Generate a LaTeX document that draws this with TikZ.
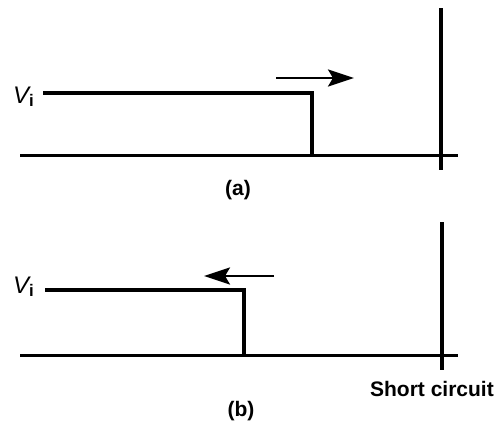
\documentclass[tikz,border=0pt]{standalone}
\usepackage{fontspec}
\setmainfont{Liberation Sans}
\usetikzlibrary{arrows.meta}
\tikzset{
  levelline/.style={line width=3.4pt},
  baseline/.style={line width=3pt},
  shortline/.style={line width=3.2pt},
  motion/.style={line width=2.6pt,-{Stealth[length=26pt,width=17pt,inset=5pt]}},
  caption/.style={font=\bfseries\fontsize{21}{24}\selectfont,inner sep=0pt},
  vlabel/.style={font=\fontsize{24}{26}\selectfont,inner sep=0pt,anchor=base west}
}
\begin{document}
\begin{tikzpicture}[x=1pt,y=-1pt]
\useasboundingbox (0,0) rectangle (496,421);
% ---------- (a) ----------
\coordinate (a1) at (43,93);
\coordinate (a2) at (312,93);
\coordinate (a3) at (312,155);
\coordinate (ab1) at (20,155);
\coordinate (ab2) at (458,155);
\coordinate (as1) at (441,8);
\coordinate (as2) at (441,170);
\coordinate (am1) at (276,78);
\coordinate (am2) at (354,78);
\node[vlabel] (va) at (13,103) {\itshape V\kern0pt\textsubscript{\upshape\bfseries i}};
\draw[levelline] (a1) -- (a2) -- (a3);
\draw[baseline] (ab1) -- (ab2);
\draw[shortline] (as1) -- (as2);
\draw[motion] (am1) -- (am2);
\node[caption] (capa) at (238,190) {(a)};
% ---------- (b) ----------
\coordinate (b1) at (45,290);
\coordinate (b2) at (244,290);
\coordinate (b3) at (244,355);
\coordinate (bb1) at (20,355);
\coordinate (bb2) at (458,355);
\coordinate (bs1) at (442,222);
\coordinate (bs2) at (442,370);
\coordinate (bm1) at (274,276);
\coordinate (bm2) at (204,276);
\node[vlabel] (vb) at (13,293) {\itshape V\kern0pt\textsubscript{\upshape\bfseries i}};
\draw[levelline] (b1) -- (b2) -- (b3);
\draw[baseline] (bb1) -- (bb2);
\draw[shortline] (bs1) -- (bs2);
\draw[motion] (bm1) -- (bm2);
\node[caption] (capb) at (241,411) {(b)};
\node[caption] (sc) at (432,389) {Short circuit};
\end{tikzpicture}
\end{document}
